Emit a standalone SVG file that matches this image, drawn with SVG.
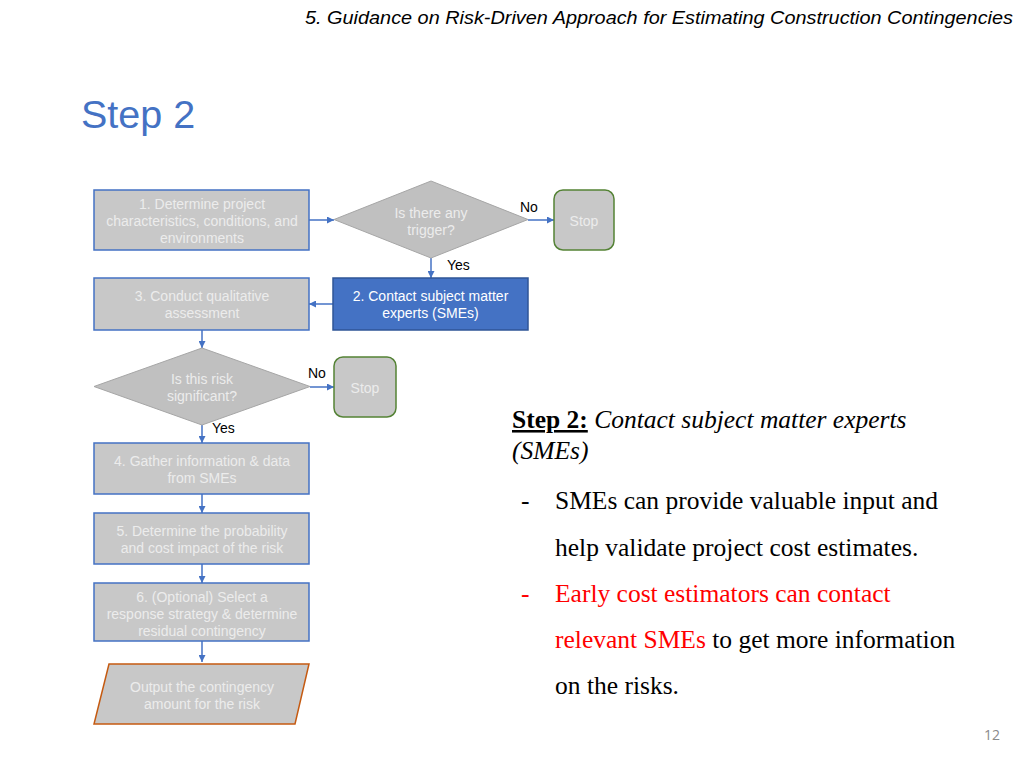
<svg xmlns="http://www.w3.org/2000/svg" width="1024" height="768" viewBox="0 0 1024 768">
<defs>
<marker id="arr" viewBox="0 0 10 10" refX="10" refY="5" markerWidth="7" markerHeight="7" markerUnits="userSpaceOnUse" orient="auto">
<path d="M0,0 L10,5 L0,10 z" fill="#4472C4"/>
</marker>
<style>
.box{fill:#c8c8c8;stroke:#4472C4;stroke-width:1.5}
.stop{fill:#c8c8c8;stroke:#548235;stroke-width:1.5}
.dia{fill:#c0c0c0;stroke:#a6a6a6;stroke-width:1}
.out{fill:#c8c8c8;stroke:#C55A11;stroke-width:1.5}
.t{font-family:"Liberation Sans",Arial,sans-serif;font-size:14px;fill:#ececec;text-anchor:middle}
.lbl{font-family:"Liberation Sans",Arial,sans-serif;font-size:14px;fill:#000}
.c{stroke:#4472C4;stroke-width:1.5;fill:none;marker-end:url(#arr)}
.ser{font-family:"Liberation Serif","Times New Roman",serif;font-size:25.5px;fill:#000}
</style>
</defs>
<rect width="1024" height="768" fill="#fff"/>
<text x="305" y="24" font-family="'Liberation Sans',Arial,sans-serif" font-style="italic" font-size="18" fill="#000" textLength="708" lengthAdjust="spacingAndGlyphs">5. Guidance on Risk-Driven Approach for Estimating Construction Contingencies</text>
<text x="81" y="128" font-family="'Liberation Sans',Arial,sans-serif" font-size="39.5" fill="#4472C4">Step 2</text>

<g id="connectors">
<line class="c" x1="309" y1="220" x2="334" y2="220"/>
<line class="c" x1="528" y1="220" x2="554" y2="220"/>
<line class="c" x1="431" y1="258" x2="431" y2="278"/>
<line class="c" x1="333" y1="304" x2="309" y2="304"/>
<line class="c" x1="202" y1="330" x2="202" y2="348"/>
<line class="c" x1="310" y1="387" x2="334" y2="387"/>
<line class="c" x1="202" y1="425" x2="202" y2="443"/>
<line class="c" x1="202" y1="494" x2="202" y2="513"/>
<line class="c" x1="202" y1="564" x2="202" y2="583"/>
<line class="c" x1="202" y1="641" x2="202" y2="662"/>
<text class="lbl" x="520" y="212">No</text>
<text class="lbl" x="447" y="270">Yes</text>
<text class="lbl" x="308" y="378">No</text>
<text class="lbl" x="212" y="433">Yes</text>
</g>

<g id="n1"><rect class="box" x="94" y="190" width="215" height="60"/>
<text class="t" x="202" y="209">1. Determine project</text><text class="t" x="202" y="226">characteristics, conditions, and</text><text class="t" x="202" y="243">environments</text></g>

<g id="d1"><polygon class="dia" points="431,181 528,219.5 431,258 334,219.5"/>
<text class="t" x="431" y="218">Is there any</text><text class="t" x="431" y="235">trigger?</text></g>

<g id="stop1"><rect class="stop" x="554" y="190" width="60" height="60" rx="9"/>
<text class="t" x="584" y="226">Stop</text></g>

<g id="n2"><rect x="333" y="278" width="195" height="52" fill="#4472C4" stroke="#2F5597" stroke-width="1.5"/>
<text class="t" x="430.5" y="301" style="fill:#fff">2. Contact subject matter</text><text class="t" x="430.5" y="318" style="fill:#fff">experts (SMEs)</text></g>

<g id="n3"><rect class="box" x="94" y="278" width="215" height="52"/>
<text class="t" x="202" y="301">3. Conduct qualitative</text><text class="t" x="202" y="318">assessment</text></g>

<g id="d2"><polygon class="dia" points="202,348 310,386.5 202,425 94,386.5"/>
<text class="t" x="202" y="384">Is this risk</text><text class="t" x="202" y="401">significant?</text></g>

<g id="stop2"><rect class="stop" x="334" y="357" width="62" height="60" rx="9"/>
<text class="t" x="365" y="393">Stop</text></g>

<g id="n4"><rect class="box" x="94" y="443" width="215" height="51"/>
<text class="t" x="202" y="466">4. Gather information &amp; data</text><text class="t" x="202" y="483">from SMEs</text></g>

<g id="n5"><rect class="box" x="94" y="513" width="215" height="51"/>
<text class="t" x="202" y="536">5. Determine the probability</text><text class="t" x="202" y="553">and cost impact of the risk</text></g>

<g id="n6"><rect class="box" x="94" y="583" width="215" height="58"/>
<text class="t" x="202" y="602">6. (Optional) Select a</text><text class="t" x="202" y="619">response strategy &amp; determine</text><text class="t" x="202" y="636">residual contingency</text></g>

<g id="out"><polygon class="out" points="109,664 309,664 295,724 94,724"/>
<text class="t" x="202" y="692">Output the contingency</text><text class="t" x="202" y="709">amount for the risk</text></g>

<g id="notes">
<text class="ser" x="512" y="428"><tspan font-weight="bold" text-decoration="underline">Step 2:</tspan><tspan font-style="italic"> Contact subject matter experts</tspan></text>
<text class="ser" x="512" y="459" font-style="italic">(SMEs)</text>
<text class="ser" x="521" y="509">-</text>
<text class="ser" x="555" y="509">SMEs can provide valuable input and</text>
<text class="ser" x="555" y="556">help validate project cost estimates.</text>
<text class="ser" x="521" y="602" style="fill:#FF0000">-</text>
<text class="ser" x="555" y="602" style="fill:#FF0000">Early cost estimators can contact</text>
<text class="ser" x="555" y="648"><tspan style="fill:#FF0000">relevant SMEs</tspan> to get more information</text>
<text class="ser" x="555" y="694">on the risks.</text>
</g>
<text x="992" y="740" font-family="'Open Sans','Liberation Sans',sans-serif" font-size="14" fill="#8a8a8a" text-anchor="middle">12</text>
</svg>
